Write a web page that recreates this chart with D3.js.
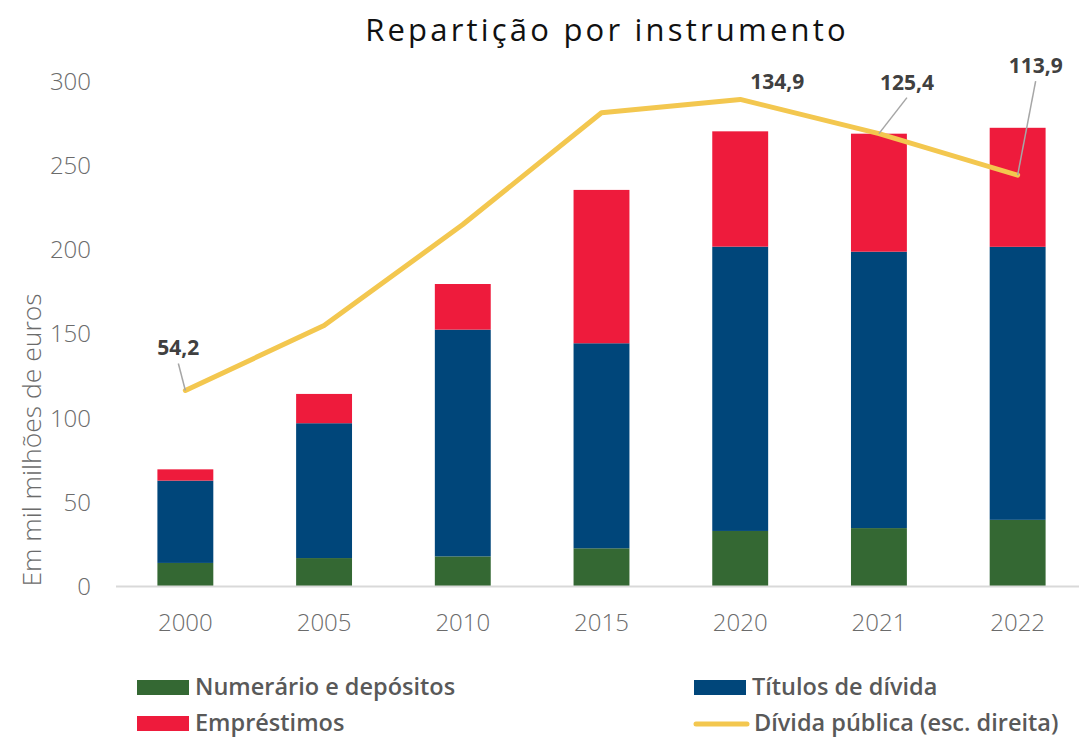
<!DOCTYPE html>
<html><head><meta charset="utf-8">
<script src="https://cdn.jsdelivr.net/npm/d3@7"></script>
<style>
body{margin:0;background:#fff;}
svg{display:block;font-family:"Open Sans",sans-serif;}
</style></head>
<body><svg id="chart" width="1079" height="738"></svg>
<script>
const years = ["2000","2005","2010","2015","2020","2021","2022"];
const numerario = [13.7,16.6,17.6,22.4,32.7,34.4,39.3];
const titulos = [48.9,80.1,134.7,121.8,168.9,164.2,162.2];
const emprestimos = [6.7,17.4,27.1,91.1,68.5,70.1,70.7];
const divida = [54.2,72.2,100.2,131.2,134.9,125.4,113.9];
const yTicks = [0,50,100,150,200,250,300];
const labelled = ["2000","2020","2021","2022"];

const svg = d3.select("#chart");
const plotTop = 81, plotBottom = 586, plotLeft = 116, plotRight = 1087;

const x = d3.scaleBand().domain(years).range([plotLeft,plotRight]).paddingInner(0.597).paddingOuter(0.2985);
const y = d3.scaleLinear().domain([0,300]).range([plotBottom,plotTop]);
const y2 = d3.scaleLinear().domain([0,140]).range([plotBottom,plotTop]);

const colors = {num:"#346833", tit:"#00467a", emp:"#ee1b3c", div:"#f3c74f"};

// title
svg.append("text").attr("x",607).attr("y",41).attr("text-anchor","middle")
  .attr("font-size",31).attr("letter-spacing","3.2px").attr("fill","#111").text("Repartição por instrumento");

// y axis labels
const yAxis = d3.axisLeft(y).tickValues(yTicks).tickSize(0).tickPadding(0);
const gy = svg.append("g").attr("transform","translate(91,0)").call(yAxis);
gy.select(".domain").remove();
gy.selectAll("text").attr("font-size",24).attr("fill","#6b6b6b").attr("font-family","Open Sans").attr("font-weight",300).attr("dy","0.35em");

svg.append("text").attr("transform","translate(41,440) rotate(-90)").attr("text-anchor","middle")
  .attr("font-size",26.5).attr("font-weight",300).attr("fill","#6b6b6b").text("Em mil milhões de euros");

// stacked data
const rows = years.map((yr,i)=>({year:yr,num:numerario[i],tit:titulos[i],emp:emprestimos[i]}));
const stack = d3.stack().keys(["num","tit","emp"])(rows);
svg.append("g").selectAll("g").data(stack).join("g")
  .attr("fill",d=>colors[d.key])
  .selectAll("rect").data(d=>d).join("rect")
  .attr("x",d=>x(d.data.year)).attr("width",x.bandwidth())
  .attr("y",d=>y(d[1])).attr("height",d=>y(d[0])-y(d[1]));

// x axis
const xAxis = d3.axisBottom(x).tickSize(0).tickPadding(0);
const gx = svg.append("g").attr("transform",`translate(0,${plotBottom})`).call(xAxis);
gx.select(".domain").remove();
gx.selectAll("text").attr("font-size",24).attr("fill","#6b6b6b").attr("font-family","Open Sans").attr("font-weight",300)
  .attr("dy",null).attr("y",45);
svg.append("line").attr("x1",116).attr("x2",1079).attr("y1",plotBottom+0.5).attr("y2",plotBottom+0.5)
  .attr("stroke","#d9d9d9").attr("stroke-width",2);

// line
const cx = yr => x(yr)+x.bandwidth()/2;
const line = d3.line().x((d,i)=>cx(years[i])).y(d=>y2(d));
svg.append("path").datum(divida).attr("d",line).attr("fill","none")
  .attr("stroke",colors.div).attr("stroke-width",5).attr("stroke-linejoin","round").attr("stroke-linecap","round");

// labels with leader lines
const labelPos = {"2000":[-7,-35],"2020":[37,-10],"2021":[28,-44],"2022":[18,-102]};
const fmt = v => v.toFixed(1).replace(".",",");
years.forEach((yr,i)=>{
  if(!labelled.includes(yr)) return;
  const px = cx(yr), py = y2(divida[i]);
  const [dx,dy] = labelPos[yr];
  const lx = px+dx, ly = py+dy;
  if(yr!=="2020"){
    svg.append("line").attr("x1",px).attr("y1",py).attr("x2",lx).attr("y2",ly+8)
      .attr("stroke","#a6a6a6").attr("stroke-width",1.5);
  }
  svg.append("text").attr("x",lx).attr("y",ly).attr("text-anchor","middle")
    .attr("font-size",21).attr("font-weight",700).attr("fill","#404040").text(fmt(divida[i]));
});

// legend
const legend = [
  {label:"Numerário e depósitos",c:colors.num,t:"rect",x:137,y:695},
  {label:"Títulos de dívida",c:colors.tit,t:"rect",x:694,y:695},
  {label:"Empréstimos",c:colors.emp,t:"rect",x:137,y:731},
  {label:"Dívida pública (esc. direita)",c:colors.div,t:"line",x:694,y:731}
];
const lg = svg.append("g");
legend.forEach(l=>{
  if(l.t==="rect") lg.append("rect").attr("x",l.x).attr("y",l.y-15).attr("width",52).attr("height",15).attr("fill",l.c);
  else lg.append("line").attr("x1",l.x+2).attr("x2",l.x+53).attr("y1",l.y-7).attr("y2",l.y-7).attr("stroke",l.c).attr("stroke-width",5).attr("stroke-linecap","round");
  lg.append("text").attr("x",l.t==="rect"?l.x+58:l.x+60).attr("y",l.y).attr("font-size",23.5).attr("font-weight",600)
    .attr("fill","#595959").text(l.label);
});
</script></body></html>
